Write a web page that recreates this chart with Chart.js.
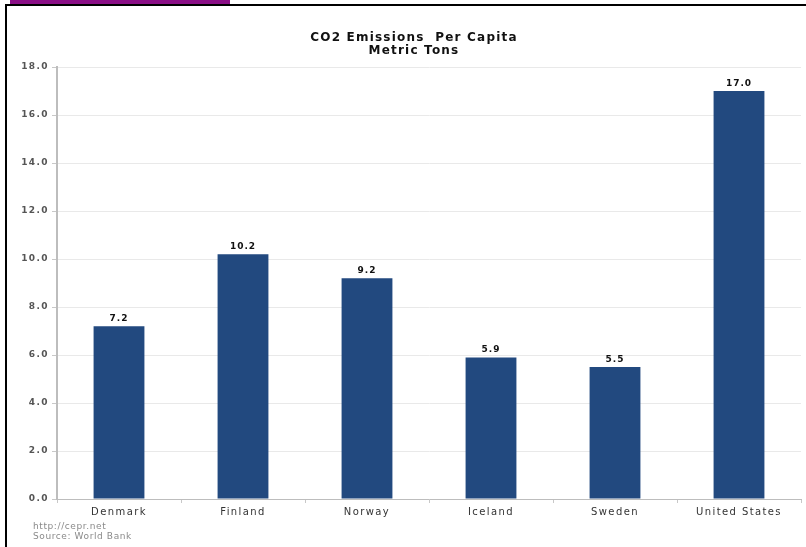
<!DOCTYPE html>
<html>
<head>
<meta charset="utf-8">
<script src="https://cdn.jsdelivr.net/npm/chart.js@4/dist/chart.umd.min.js"></script>
<style>
  html, body { margin: 0; padding: 0; background: #fff; }
  #wrap { position: relative; width: 806px; height: 547px; overflow: hidden; background: #fff; }
  #c { position: absolute; left: 0; top: 0; }
  .bar-top { position: absolute; left: 5px; top: 4px; width: 801px; height: 2px; background: #000; }
  .bar-left { position: absolute; left: 5px; top: 4px; width: 2px; height: 543px; background: #000; }
  .purple { position: absolute; left: 10px; top: 0px; width: 220px; height: 4px; background: #8a0f86; }
  .foot { position: absolute; left: 33px; font: 9px "DejaVu Sans", sans-serif; color: #8a8a8a; letter-spacing: 0.6px; line-height: 10px; }
</style>
</head>
<body>
<div id="wrap">
  <canvas id="c" width="806" height="547"></canvas>
  <div class="purple"></div>
  <div class="bar-top"></div>
  <div class="bar-left"></div>
  <div class="foot" style="top:521px">http://cepr.net</div>
  <div class="foot" style="top:531px">Source: World Bank</div>
</div>
<script>
const categories = ['Denmark', 'Finland', 'Norway', 'Iceland', 'Sweden', 'United States'];
const emissions = [7.2, 10.2, 9.2, 5.9, 5.5, 17.0];
const titleLines = ['CO2 Emissions  Per Capita', 'Metric Tons'];
const yMin = 0, yMax = 18, yStep = 2;

const spacingPlugin = {
  id: 'spacing',
  beforeDraw(chart) {
    const ctx = chart.ctx;
    ctx.fillStyle = '#fff';
    ctx.fillRect(0, 0, chart.width, chart.height);
    if ('letterSpacing' in ctx) ctx.letterSpacing = '1.4px';
  }
};

const titlePlugin = {
  id: 'customTitle',
  afterDraw(chart) {
    const ctx = chart.ctx;
    ctx.save();
    if ('letterSpacing' in ctx) ctx.letterSpacing = '1.2px';
    ctx.font = 'bold 12px "DejaVu Sans", sans-serif';
    ctx.fillStyle = '#111';
    ctx.textAlign = 'center';
    ctx.textBaseline = 'middle';
    ctx.fillText(titleLines[0], 414, 38);
    ctx.fillText(titleLines[1], 414, 51);
    ctx.restore();
  }
};

const labelPlugin = {
  id: 'valueLabels',
  afterDatasetsDraw(chart) {
    const ctx = chart.ctx;
    const meta = chart.getDatasetMeta(0);
    ctx.save();
    if ('letterSpacing' in ctx) ctx.letterSpacing = '1px';
    ctx.font = 'bold 9px "DejaVu Sans", sans-serif';
    ctx.fillStyle = '#111';
    ctx.textAlign = 'center';
    ctx.textBaseline = 'bottom';
    meta.data.forEach((bar, i) => {
      ctx.fillText(emissions[i].toFixed(1), bar.x, bar.y - 3);
    });
    ctx.restore();
  }
};

new Chart(document.getElementById('c'), {
  type: 'bar',
  data: {
    labels: categories,
    datasets: [{
      data: emissions,
      backgroundColor: '#22497f',
      borderWidth: 0,
      categoryPercentage: 1.0,
      barPercentage: 0.41
    }]
  },
  options: {
    responsive: false,
    animation: false,
    devicePixelRatio: 1,
    layout: { padding: { top: 67, right: 5, bottom: 26, left: 0 } },
    plugins: { legend: { display: false }, tooltip: { enabled: false }, title: { display: false } },
    scales: {
      x: {
        offset: true,
        afterFit(s) { s.height = 22; },
        grid: { display: true, drawOnChartArea: false, tickLength: 4, color: '#c8c8c8', offset: true },
        border: { color: '#bdbdbd', width: 1 },
        ticks: { color: '#333', padding: 3, font: { family: '"DejaVu Sans", sans-serif', size: 10 } }
      },
      y: {
        min: yMin, max: yMax,
        afterFit(s) { s.width = 57; },
        grid: { color: '#e9e9e9', tickLength: 5, tickColor: '#c8c8c8' },
        border: { color: '#bdbdbd', width: 2 },
        ticks: {
          stepSize: yStep,
          color: '#555',
          padding: 3,
          font: { family: '"DejaVu Sans", sans-serif', size: 9, weight: 'bold' },
          callback: v => Number(v).toFixed(1)
        }
      }
    }
  },
  plugins: [spacingPlugin, titlePlugin, labelPlugin]
});
</script>
</body>
</html>
